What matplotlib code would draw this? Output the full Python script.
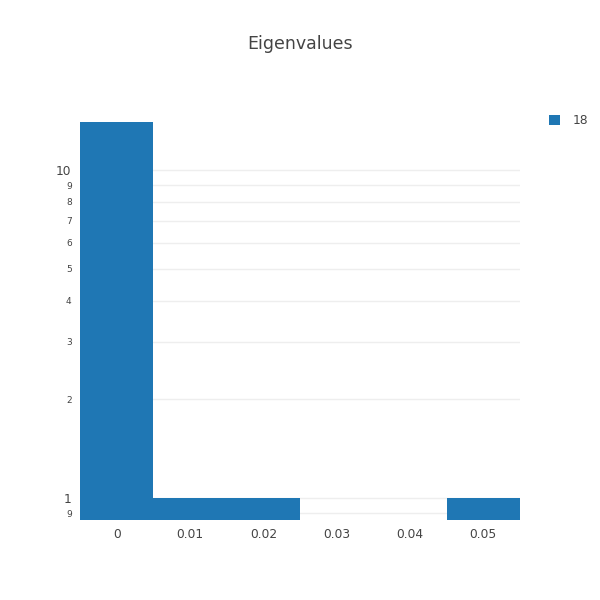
import matplotlib
matplotlib.use("Agg")
import matplotlib.pyplot as plt
import numpy as np

bin_centers = [0, 0.01, 0.02, 0.03, 0.04, 0.05]
counts = [14, 1, 1, 0, 0, 1]
xtick_labels = ["0", "0.01", "0.02", "0.03", "0.04", "0.05"]
trace_name = "18"
title = "Eigenvalues"

plt.rcParams['font.family'] = ['DejaVu Sans']
color = "#1f77b4"
text_color = "#444444"

fig = plt.figure(figsize=(6, 6), dpi=100)
ax = fig.add_axes([80 / 600, 80 / 600, 440 / 600, 420 / 600])

x = np.array(bin_centers)
h = np.array(counts, dtype=float)
mask = h > 0
ax.set_yscale("log")
ax.bar(x[mask], h[mask], width=0.01, color=color, zorder=3, label=trace_name)

ax.set_xlim(-0.005, 0.055)
ax.set_ylim(10 ** (-22 / 328), 10 ** (398 / 328))

ax.set_xticks(bin_centers)
ax.set_xticklabels(xtick_labels, fontsize=8.8, color=text_color)

major = [1, 10]
minor = [0.9, 2, 3, 4, 5, 6, 7, 8, 9]
ax.set_yticks(major)
ax.set_yticklabels(["1", "10"], fontsize=8.8, color=text_color)
ax.set_yticks(minor, minor=True)
ax.set_yticklabels(["9", "2", "3", "4", "5", "6", "7", "8", "9"], minor=True,
                   fontsize=6.5, color=text_color)
ax.tick_params(axis="both", which="both", length=0, pad=6)
ax.grid(True, axis="y", which="both", color="#eeeeee", linewidth=1, zorder=0)
for s in ax.spines.values():
    s.set_visible(False)

fig.suptitle(title, y=1 - 44 / 600, va="center", fontsize=12.5, color=text_color)
ax.legend(loc="upper left", bbox_to_anchor=(538 / 600, 1 - 103 / 600),
          bbox_transform=fig.transFigure, frameon=False, fontsize=8.8,
          handlelength=0.9, handleheight=0.9, labelcolor=text_color,
          handletextpad=1.0)

fig.savefig("out.png", dpi=100)
